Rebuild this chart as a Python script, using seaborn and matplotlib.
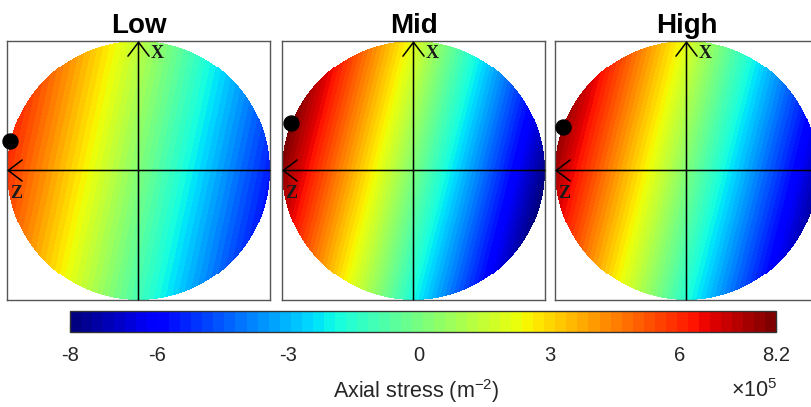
import numpy as np
import pandas as pd
import matplotlib
matplotlib.use("Agg")
import matplotlib.pyplot as plt
import seaborn as sns
from matplotlib.colors import Normalize
from matplotlib.cm import ScalarMappable

# ---------------- data ----------------
panel_titles = ["Low", "Mid", "High"]
max_stress = [6.0, 8.2, 7.8]        # x1e5, at the marked point (upper-left edge)
min_stress = [-5.6, -8.0, -7.4]     # x1e5, at the opposite edge
iso_tilt_deg = [12.0, 14.0, 14.0]   # tilt of the iso-stress lines from vertical
dot_angle_deg = [13.0, 21.5, 19.5]  # angle of marker above the -Z (left) axis
cbar_ticks = [-8, -6, -3, 0, 3, 6, 8.2]
cbar_ticklabels = ["-8", "-6", "-3", "0", "3", "6", "8.2"]
vmin, vmax = -8.0, 8.2

# ---------------- styling ----------------
sns.set_style("white")
plt.rcParams["font.family"] = ["Liberation Sans", "DejaVu Sans"]
plt.rcParams["mathtext.fontset"] = "custom"
plt.rcParams["mathtext.rm"] = "Liberation Sans"

W, H = 811, 407
fig = plt.figure(figsize=(W / 100, H / 100), dpi=100)

cmap = plt.get_cmap("jet", 64)
N = 264

def fx(px):
    return px / W

def fy(py):
    return 1 - py / H

box_left = [7, 282, 555]
box_w, box_top, box_bot = 263, 41, 300

def to_cell(u, v):
    return (u + 1) / 2 * N, (1 - v) / 2 * N

centers = -1 + (np.arange(N) + 0.5) * 2 / N
U, V = np.meshgrid(centers, centers[::-1])

arrow_style = "->,head_length=0.5,head_width=0.38"

for k in range(3):
    ax = fig.add_axes([fx(box_left[k]), fy(box_bot), fx(box_w), (box_bot - box_top) / H])
    t = np.deg2rad(iso_tilt_deg[k])
    c = (max_stress[k] + min_stress[k]) / 2
    a = (max_stress[k] - min_stress[k]) / 2
    field = c + a * (-np.cos(t) * U + np.sin(t) * V)
    mask = (U ** 2 + V ** 2) > 1.0
    df = pd.DataFrame(field)
    sns.heatmap(df, mask=mask, cmap=cmap, vmin=vmin, vmax=vmax, cbar=False,
                xticklabels=False, yticklabels=False, ax=ax, rasterized=True)
    ax.set_xlim(0, N)
    ax.set_ylim(N, 0)
    for s in ax.spines.values():
        s.set_visible(True)
        s.set_color("#555555")
        s.set_linewidth(1.0)
    ax.set_title(panel_titles[k], fontsize=20, fontweight="bold", pad=6, color="black")

    # axes arrows
    ax.annotate("", xy=to_cell(0, 1.0), xytext=to_cell(0, -1.0),
                arrowprops=dict(arrowstyle=arrow_style, lw=1.1, color="black",
                                shrinkA=0, shrinkB=0, mutation_scale=20))
    ax.annotate("", xy=to_cell(-1.0, 0), xytext=to_cell(1.0, 0),
                arrowprops=dict(arrowstyle=arrow_style, lw=1.1, color="black",
                                shrinkA=0, shrinkB=0, mutation_scale=20))
    xl = to_cell(0.14, 0.9)
    ax.text(xl[0], xl[1], "X", family=["Liberation Serif", "DejaVu Serif"],
            fontweight="bold", fontsize=13, ha="center", va="center", color="#1a1a1a")
    zl = to_cell(-0.93, -0.18)
    ax.text(zl[0], zl[1], "Z", family=["Liberation Serif", "DejaVu Serif"],
            fontweight="bold", fontsize=13, ha="center", va="center", color="#1a1a1a")

    # marker at the max-stress point
    d = np.deg2rad(dot_angle_deg[k])
    dp = to_cell(-np.cos(d), np.sin(d))
    ax.plot([dp[0]], [dp[1]], "o", color="black", markersize=10.8, clip_on=False, zorder=5)

# ---------------- colorbar ----------------
cax = fig.add_axes([fx(70), fy(332), fx(706), 21 / H])
sm = ScalarMappable(norm=Normalize(vmin=vmin, vmax=vmax), cmap=cmap)
cb = fig.colorbar(sm, cax=cax, orientation="horizontal")
cb.set_ticks(cbar_ticks)
cb.set_ticklabels(cbar_ticklabels)
cax.tick_params(axis="x", direction="in", length=7, width=0.8, labelsize=14.5,
                pad=10, color="#333333", labelcolor="#262626")
cb.outline.set_edgecolor("#333333")
cb.outline.set_linewidth(1.0)

fig.text(fx(416), fy(391), "Axial stress (m$^{-2}$)", fontsize=15.5,
         ha="center", va="center", color="#262626")
fig.text(fx(777), fy(391), r"$\times$10$^{5}$", fontsize=15.5,
         ha="right", va="center", color="#262626")

fig.savefig("out.png", dpi=100)
